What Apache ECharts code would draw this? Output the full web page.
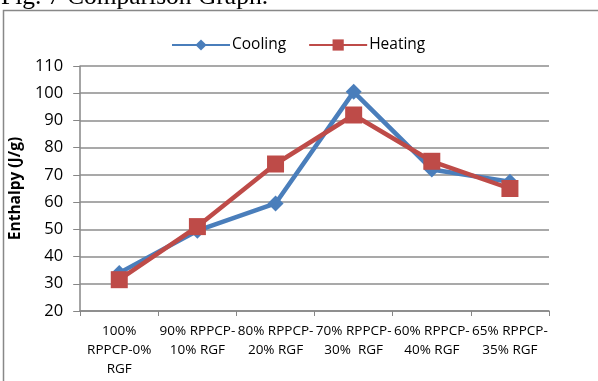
<!DOCTYPE html>
<html>
<head>
<meta charset="utf-8">
<script src="https://cdn.jsdelivr.net/npm/echarts@6/dist/echarts.min.js"></script>
<style>
  html, body { margin: 0; padding: 0; background: #fff; }
  #chart { width: 598px; height: 381px; }
</style>
</head>
<body>
<div id="chart"></div>
<script>
// Mix ratios (RPPCP / RGF) along the x axis
const categories = [
  '100%\nRPPCP-0%\nRGF',
  '90% RPPCP-\n10% RGF',
  '80% RPPCP-\n20% RGF',
  '70% RPPCP-\n30%  RGF',
  '60% RPPCP-\n40% RGF',
  '65% RPPCP-\n35% RGF'
];
// Enthalpy values in J/g
const cooling = [34, 49.5, 59.5, 100.5, 72, 67.5];
const heating = [31.5, 51, 74, 92, 75, 65];
const yTicks = { min: 20, max: 110, step: 10 };

const chart = echarts.init(document.getElementById('chart'), null, { renderer: 'canvas' });
const labelFont = '"Open Sans", sans-serif';

chart.setOption({
  animation: false,
  backgroundColor: '#fff',
  graphic: [
    {
      type: 'text', left: 1, top: -16,
      style: { text: 'Fig. 7 Comparison Graph.', font: '25.5px "Liberation Serif", serif', fill: '#000' }
    },
    {
      type: 'rect', shape: { x: 3.5, y: 10.5, width: 620, height: 400 },
      style: { fill: 'none', stroke: '#888', lineWidth: 1.5 }, z: -1
    }
  ],
  legend: {
    top: 32, left: 166,
    itemWidth: 58, itemHeight: 14, itemGap: 22,
    textStyle: { fontFamily: labelFont, fontSize: 15.5, color: '#000', padding: [0, 0, 0, -3] },
    data: ['Cooling', 'Heating']
  },
  grid: { left: 80, right: 49, top: 66, bottom: 70 },
  xAxis: {
    type: 'category',
    data: categories,
    boundaryGap: true,
    axisLine: { lineStyle: { color: '#868686', width: 1.5 } },
    axisTick: { show: true, length: 5, lineStyle: { color: '#868686' } },
    axisLabel: {
      interval: 0, color: '#000', fontFamily: labelFont, fontSize: 13.5,
      lineHeight: 19, margin: 11
    }
  },
  yAxis: {
    type: 'value',
    min: yTicks.min, max: yTicks.max, interval: yTicks.step,
    name: 'Enthalpy (J/g)',
    nameLocation: 'middle', nameGap: 50,
    nameTextStyle: { fontFamily: labelFont, fontSize: 15.5, fontWeight: 'bold', color: '#000' },
    axisLine: { show: true, lineStyle: { color: '#868686', width: 1.5 } },
    axisTick: { show: true, length: 7, lineStyle: { color: '#868686' } },
    axisLabel: { color: '#000', fontFamily: labelFont, fontSize: 16.5, margin: 17 },
    splitLine: { lineStyle: { color: '#8c8c8c', width: 1.5 } }
  },
  series: [
    {
      name: 'Cooling', type: 'line', data: cooling,
      symbol: 'diamond', symbolSize: 16,
      lineStyle: { color: '#4a7ebb', width: 4.5 },
      itemStyle: { color: '#4a7ebb' }, z: 2
    },
    {
      name: 'Heating', type: 'line', data: heating,
      symbol: 'rect', symbolSize: 17,
      lineStyle: { color: '#be4b48', width: 4.5 },
      itemStyle: { color: '#be4b48' }, z: 3
    }
  ]
});
</script>
</body>
</html>
